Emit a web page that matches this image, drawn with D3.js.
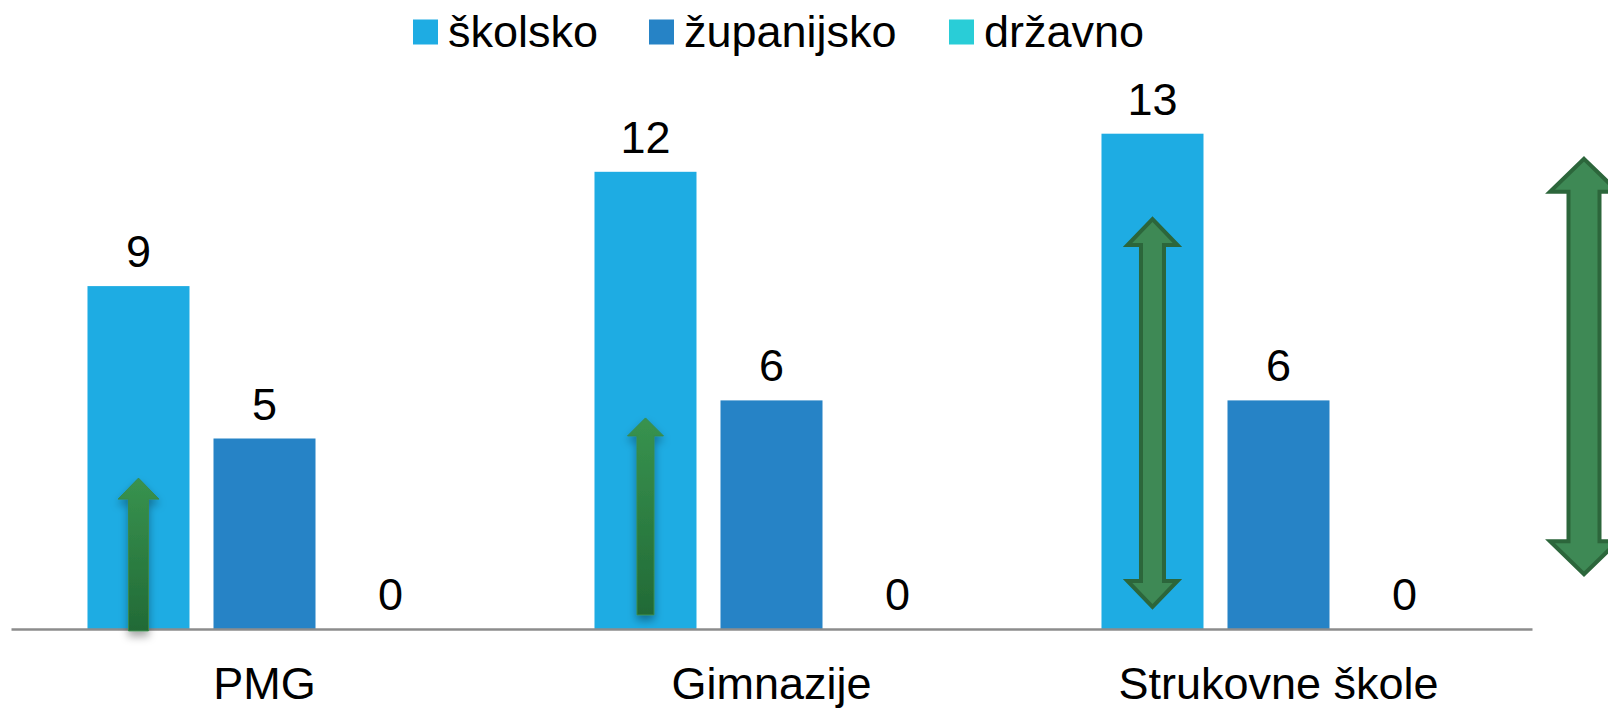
<!DOCTYPE html>
<html><head><meta charset="utf-8">
<script src="https://cdn.jsdelivr.net/npm/d3@7"></script>
<style>html,body{margin:0;padding:0;background:#fff;}svg{display:block;}</style>
</head><body>
<script>
const categories = ["PMG", "Gimnazije", "Strukovne škole"];
const seriesNames = ["školsko", "županijsko", "državno"];
const skolsko = [9, 12, 13];
const zupanijsko = [5, 6, 6];
const drzavno = [0, 0, 0];
const seriesColors = ["#1EACE3", "#2683C6", "#29CDD7"];
// decorative arrows in data units: category index (null = right of plot), value range
const arrowCat = [0, 1, 2, null];
const arrowFrom = [-0.05, 0.37, 0.58, 1.44];
const arrowTo = [3.96, 5.54, 10.76, 12.34];
const arrowDouble = [false, false, true, true];

const W = 1608, H = 712;
const svg = d3.select("body").append("svg").attr("width", W).attr("height", H);
const font = "'Liberation Sans', Arial, sans-serif";
const values = [skolsko, zupanijsko, drzavno];

const x0 = d3.scaleBand().domain(categories).range([11, 1532]).padding(0);
const x1 = d3.scaleBand().domain(seriesNames).range([0, x0.bandwidth()]).paddingInner(24/126).paddingOuter(0.607);
const y = d3.scaleLinear().domain([0, 14]).range([629, 629 - 14*38.1]);

const defs = svg.append("defs");
const grad = defs.append("linearGradient").attr("id","g1").attr("x1",0).attr("y1",0).attr("x2",0).attr("y2",1);
grad.append("stop").attr("offset","0%").attr("stop-color","#38934F");
grad.append("stop").attr("offset","100%").attr("stop-color","#226A36");
const f = defs.append("filter").attr("id","sh").attr("x","-50%").attr("y","-20%").attr("width","200%").attr("height","140%");
f.append("feDropShadow").attr("dx",0).attr("dy",5).attr("stdDeviation",4).attr("flood-color","#000").attr("flood-opacity",0.35);

// bars
categories.forEach((c, ci) => {
  seriesNames.forEach((s, si) => {
    const v = values[si][ci];
    const bx = x0(c) + x1(s);
    if (v > 0) {
      svg.append("rect").attr("x", bx).attr("y", y(v)).attr("width", x1.bandwidth())
        .attr("height", y(0) - y(v)).attr("fill", seriesColors[si]);
    }
    svg.append("text").attr("x", bx + x1.bandwidth()/2).attr("y", y(v) - 19)
      .attr("text-anchor","middle").attr("font-family", font).attr("font-size", 45)
      .attr("fill","#000").text(v);
  });
});

// axis
const xAxis = d3.axisBottom(x0).tickSize(0).tickPadding(38);
const ax = svg.append("g").attr("transform", `translate(0,${y(0)})`).call(xAxis);
ax.select(".domain").attr("stroke","#8c8c8c").attr("stroke-width",2.5);
ax.selectAll("text").attr("font-family", font).attr("font-size", 45).attr("fill","#000").attr("dy", "0.72em");

// arrows
function arrowPath(cx, yt, yb, hw, hh, sw, dbl) {
  const p = [];
  p.push([cx, yt], [cx+hw, yt+hh], [cx+sw, yt+hh]);
  if (dbl) { p.push([cx+sw, yb-hh], [cx+hw, yb-hh], [cx, yb], [cx-hw, yb-hh], [cx-sw, yb-hh]); }
  else { p.push([cx+sw, yb], [cx-sw, yb]); }
  p.push([cx-sw, yt+hh], [cx-hw, yt+hh]);
  return "M" + p.map(d => d.join(",")).join("L") + "Z";
}
const arrowStyle = [
  {hw:20.5, hh:21, sw:10},
  {hw:18, hh:18, sw:8.5},
  {hw:25, hh:26, sw:11.5},
  {hw:34, hh:33, sw:15.5}
];
arrowCat.forEach((ci, i) => {
  const cx = ci === null ? x0.range()[1] + 52 : x0(categories[ci]) + x1(seriesNames[0]) + x1.bandwidth()/2;
  const st = arrowStyle[i];
  const path = svg.append("path").attr("d", arrowPath(cx, y(arrowTo[i]), y(arrowFrom[i]), st.hw, st.hh, st.sw, arrowDouble[i]));
  if (arrowDouble[i]) {
    path.attr("fill","#3E8955").attr("stroke","#2C663B").attr("stroke-width",4).attr("stroke-linejoin","miter");
  } else {
    path.attr("fill","url(#g1)").attr("stroke","#3A8A4A").attr("stroke-width",1).attr("filter","url(#sh)");
  }
});

// legend
const legX = [413, 649, 949];
seriesNames.forEach((s, i) => {
  svg.append("rect").attr("x", legX[i]).attr("y", 19.5).attr("width", 25).attr("height", 25).attr("fill", seriesColors[i]);
  svg.append("text").attr("x", legX[i] + 35).attr("y", 47).attr("font-family", font).attr("font-size", 45)
    .attr("fill","#000").text(s);
});
</script>
</body></html>
